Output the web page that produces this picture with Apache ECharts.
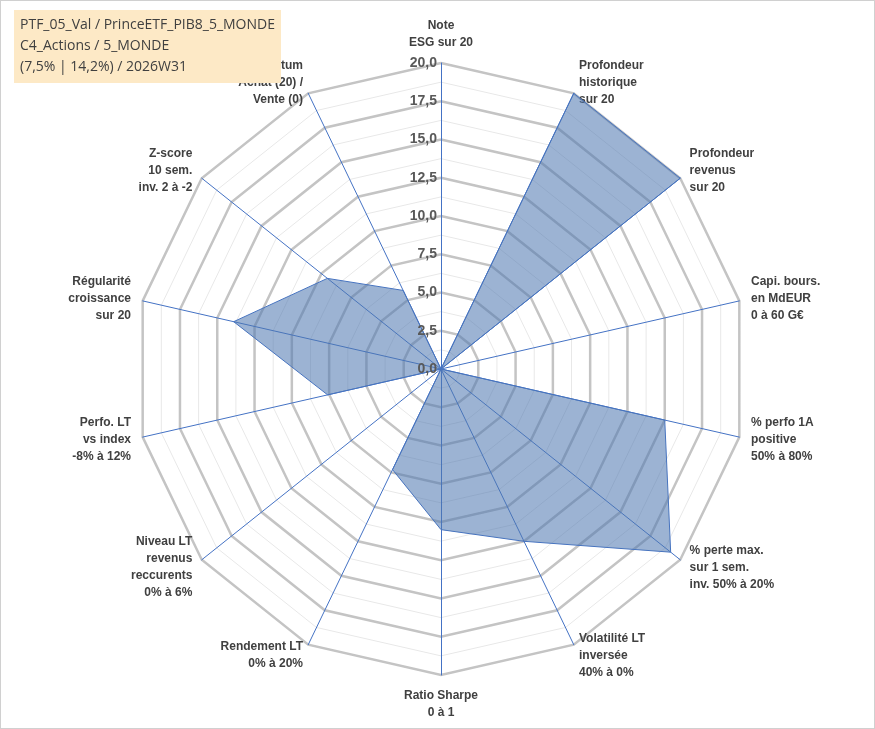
<!DOCTYPE html>
<html><head><meta charset="utf-8">
<script src="https://cdn.jsdelivr.net/npm/echarts@6/dist/echarts.min.js"></script>
<style>html,body{margin:0;padding:0;background:#fff}#chart{width:873px;height:727px;border:1px solid #d0d0d0}</style>
</head><body><div id="chart"></div>
<script>
var indicators = ['Note\nESG sur 20', 'Profondeur\nhistorique\nsur 20', 'Profondeur\nrevenus\nsur 20',
  'Capi. bours.\nen MdEUR\n0 à 60 G€', '% perfo 1A\npositive\n50% à 80%', '% perte max.\nsur 1 sem.\ninv. 50% à 20%',
  'Volatilité LT\ninversée\n40% à 0%', 'Ratio Sharpe\n0 à 1', 'Rendement LT\n0% à 20%',
  'Niveau LT\nrevenus\nreccurents\n0% à 6%', 'Perfo. LT\nvs index\n-8% à 12%', 'Régularité\ncroissance\nsur 20',
  'Z-score\n10 sem.\ninv. 2 à -2', 'Momentum\nAchat (20) /\nVente (0)'];
var values = [0, 20, 20, 0, 15, 19.2, 12.5, 10.5, 7.3, 0, 7.6, 13.9, 9.5, 5.7];
var titleLines = ['PTF_05_Val / PrinceETF_PIB8_5_MONDE', 'C4_Actions / 5_MONDE', '(7,5% | 14,2%) / 2026W31'];

// ECharts radar runs counter-clockwise: keep the first axis on top, reverse the rest
var order = [0];
for (var i = indicators.length - 1; i > 0; i--) order.push(i);
var ind = order.map(function (k) { return { name: indicators[k], max: 20, min: 0 }; });
var vals = order.map(function (k) { return values[k]; });

var myChart = echarts.init(document.getElementById('chart'));
var center = [440, 368], R = 306;
option = {
  title: {
    text: titleLines.join('\n'), left: 13, top: 9,
    backgroundColor: '#fde9c6', padding: [5, 6, 5, 6],
    textStyle: { fontSize: 14, fontWeight: 'normal', color: '#404040', lineHeight: 21, fontFamily: 'Open Sans' }
  },
  radar: [{
    indicator: ind, center: center, radius: R, shape: 'polygon', splitNumber: 16,
    axisName: { show: false },
    axisLine: { show: false },
    splitLine: { lineStyle: { color: '#e8e8e8', width: 1 } },
    splitArea: { show: false }
  }, {
    indicator: ind, center: center, radius: R, shape: 'polygon', splitNumber: 8,
    axisName: { color: '#404040', fontWeight: 'bold', fontSize: 12, lineHeight: 17, fontFamily: 'Liberation Sans' },
    nameGap: 12,
    axisLine: { lineStyle: { color: '#4472c4', width: 1 } },
    splitLine: { lineStyle: { color: '#c4c4c4', width: 2.5 } },
    splitArea: { show: false }
  }],
  polar: { center: center, radius: R },
  angleAxis: { show: false, min: 0, max: 360 },
  radiusAxis: {
    min: 0, max: 20, interval: 2.5, z: 10,
    axisLine: { show: false }, axisTick: { show: false }, splitLine: { show: false },
    axisLabel: { color: '#595959', fontWeight: 'bold', fontSize: 14, margin: 4,
      formatter: function (v) { return v.toFixed(1).replace('.', ','); } }
  },
  series: [{
    type: 'radar', radarIndex: 1, symbol: 'none',
    lineStyle: { color: '#4472c4', width: 1 },
    areaStyle: { color: 'rgba(79,120,176,0.8)' },
    data: [{ value: vals }]
  }]
};
myChart.setOption(option);
</script></body></html>
